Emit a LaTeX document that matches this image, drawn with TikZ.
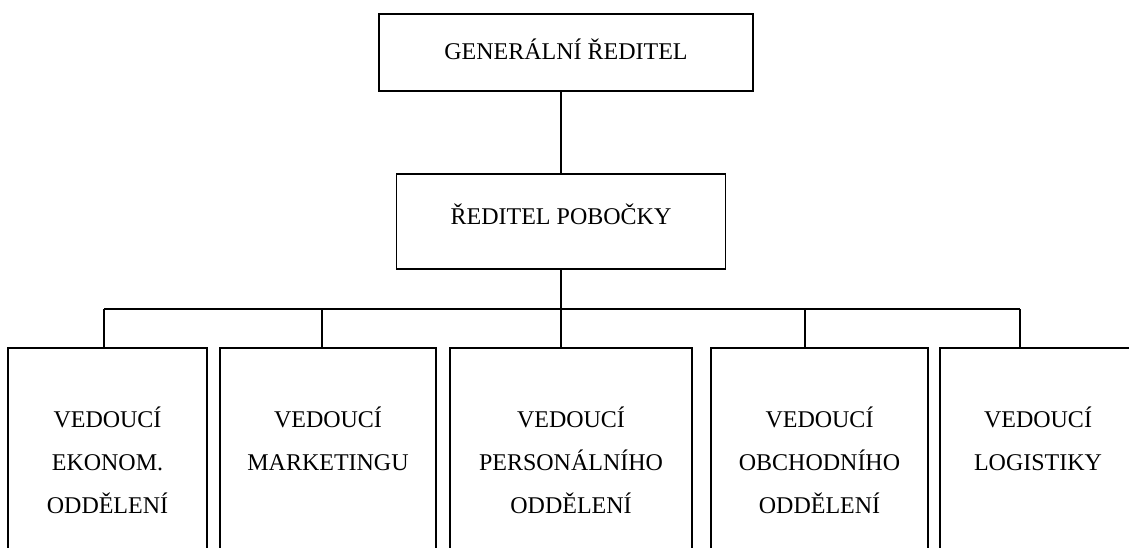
\documentclass[tikz,border=0pt]{standalone}
\usepackage{fontspec}
\setmainfont{Liberation Serif}
\usetikzlibrary{positioning}

\tikzset{
	chief/.style={shape=rectangle,draw=black,line width=0.9pt,inner sep=0pt,font=\fontsize{12}{14}\selectfont},
	deptbox/.style={shape=rectangle,draw=black,line width=0.9pt,anchor=north,minimum height=150pt,inner sep=0pt},
	depttext/.style={align=center,inner sep=0pt,font=\fontsize{12}{21.5}\selectfont},
	conn/.style={draw=black,line width=0.9pt},
}

\begin{document}
\begin{tikzpicture}[x=0.5pt,y=-0.5pt]

		\useasboundingbox (0,0) rectangle (1129,547);
		\clip (0,0) rectangle (1129,547);

		\node[chief,minimum width=187pt,minimum height=38.5pt,text depth=3pt]   (gen) at (566, 52.5)   {GENERÁLNÍ ŘEDITEL};
		\node[chief,minimum width=164.5pt,minimum height=47.5pt,text depth=7pt] (pob) at (561, 221.5)  {ŘEDITEL POBOČKY};

		\node[deptbox,minimum width=99.5pt]  (eko) at (107.5, 347) {};
		\node[deptbox,minimum width=108pt]   (mkt) at (328, 347)   {};
		\node[deptbox,minimum width=121pt]   (per) at (571, 347)   {};
		\node[deptbox,minimum width=108.5pt] (obc) at (819.5, 347) {};
		\node[deptbox,minimum width=98pt]    (log) at (1038, 347)  {};

		\node[depttext,below=29.5pt of eko.north] (ekot) {VEDOUCÍ\\EKONOM.\\ODDĚLENÍ};
		\node[depttext,below=29.5pt of mkt.north] (mktt) {VEDOUCÍ\\MARKETINGU};
		\node[depttext,below=29.5pt of per.north] (pert) {VEDOUCÍ\\PERSONÁLNÍHO\\ODDĚLENÍ};
		\node[depttext,below=29.5pt of obc.north] (obct) {VEDOUCÍ\\OBCHODNÍHO\\ODDĚLENÍ};
		\node[depttext,below=29.5pt of log.north] (logt) {VEDOUCÍ\\LOGISTIKY};

		% rozvodna
		\coordinate (b1) at (104, 309);
		\coordinate (b2) at (322, 309);
		\coordinate (b3) at (561, 309);
		\coordinate (b4) at (805, 309);
		\coordinate (b5) at (1020, 309);

		\path[conn] (gen.south -| pob.north) -- (pob.north);
		\path[conn] (pob.south) -- (b3);
		\path[conn] (b1) -- (b5);
		\path[conn] (b1) -- (b1 |- eko.north);
		\path[conn] (b2) -- (b2 |- mkt.north);
		\path[conn] (b3) -- (b3 |- per.north);
		\path[conn] (b4) -- (b4 |- obc.north);
		\path[conn] (b5) -- (b5 |- log.north);

\end{tikzpicture}
\end{document}
